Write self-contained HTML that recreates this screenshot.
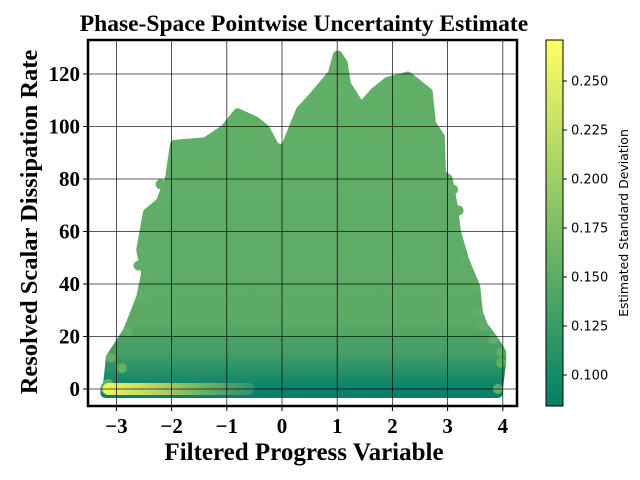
<!DOCTYPE html>
<html><head><meta charset="utf-8"><style>
html,body{margin:0;padding:0;background:#fff;width:640px;height:480px;overflow:hidden}
svg text{font-family:"Liberation Serif",serif}
</style></head><body>
<svg id="chart" width="640" height="480" viewBox="0 0 640 480">
<defs>
<linearGradient id="vfill" x1="0" y1="40" x2="0" y2="392" gradientUnits="userSpaceOnUse">
<stop offset="0" stop-color="#63b068"/>
<stop offset="0.8" stop-color="#5caa65"/>
<stop offset="0.9" stop-color="#3f9b66"/>
<stop offset="0.96" stop-color="#1a8a6b"/>
<stop offset="1" stop-color="#0a7f6b"/>
</linearGradient>
<linearGradient id="yel" x1="100" y1="0" x2="290" y2="0" gradientUnits="userSpaceOnUse">
<stop offset="0" stop-color="#f8f85e"/>
<stop offset="0.3" stop-color="#d8e060" stop-opacity="0.85"/>
<stop offset="1" stop-color="#8cc466" stop-opacity="0"/>
</linearGradient>
<linearGradient id="cbar" x1="0" y1="406" x2="0" y2="40" gradientUnits="userSpaceOnUse">
<stop offset="0" stop-color="#008066"/>
<stop offset="1" stop-color="#ffff66"/>
</linearGradient>
<clipPath id="plotclip"><rect x="88" y="40" width="429" height="366"/></clipPath>
</defs>
</svg>
<script>
// Upper envelope of the point cloud (x: progress variable, y: dissipation rate)
const envX = [-3.2,-3.15,-3.1,-2.79,-2.55,-2.46,-2.55,-2.43,-2.2,-2.03,-1.94,-1.38,-1.03,-0.8,-0.49,-0.31,-0.13,0.05,0.34,0.6,0.92,1.01,1.1,1.16,1.43,1.68,1.92,2.28,2.46,2.64,2.7,2.86,2.88,3.0,3.1,3.15,3.3,3.5,3.55,3.64,3.82,3.97,3.97,3.91];
const envY = [0,2,12,22,35,44,53,67,71,80,93,94,99,105,102,99,92,91,106,112,120,127,124,116,107,113,117,119,116,113,101,96,82,80,69,60,49,39,29,24,19,14,10,0];
// Isolated outlier points
const outX = [-2.9,-2.6,-1.3,-0.9,-0.3,0.65,0.95,1.3,1.55,2.05,2.15,2.5,2.6,3.1,3.2,-2.2,1.8];
const outY = [8,47,86,102,88,110,103,104,85,110,98,100,108,76,68,78,96];
const xTicks = [-3,-2,-1,0,1,2,3,4];
const yTicks = [0,20,40,60,80,100,120];
const cbTicks = [0.100,0.125,0.150,0.175,0.200,0.225,0.250];

const NS="http://www.w3.org/2000/svg";
const svg=document.getElementById('chart');
const X=v=>282+55.2*v;
const Y=v=>389-2.625*v;
const CB=v=>375-(v-0.1)*1960;
function mk(t,a,p){const e=document.createElementNS(NS,t);for(const k in a)e.setAttribute(k,a[k]);(p||svg).appendChild(e);return e;}

const g=mk('g',{'clip-path':'url(#plotclip)'});


let d='M'+X(envX[0])+','+(Y(0)+4);
for(let i=0;i<envX.length;i++) d+=' L'+X(envX[i])+','+Y(envY[i]);
d+=' L'+X(envX[envX.length-1])+','+(Y(0)+4)+' Z';
const cloud=mk('path',{d:d,fill:'url(#vfill)',stroke:'url(#vfill)','stroke-width':10,'stroke-linejoin':'round'},g);


for(let i=0;i<envX.length;i++){
  const c=mk('circle',{cx:X(envX[i]),cy:Y(envY[i]),r:5,fill:'#62ae66'},g);
  
  
}
for(let i=0;i<outX.length;i++){
  const c=mk('circle',{cx:X(outX[i]),cy:Y(outY[i]),r:5,fill:'#62ae66'},g);
  
  
}
const ys=mk('rect',{x:X(-3.25),y:Y(0)-6,width:X(-0.5)-X(-3.25),height:12,rx:6,fill:'url(#yel)'},g);



// grid
for(const t of xTicks){const l=mk('line',{x1:X(t),x2:X(t),y1:40,y2:406,stroke:'#000','stroke-width':0.8,opacity:0.85});

const tk=mk('line',{x1:X(t),x2:X(t),y1:406,y2:411,stroke:'#000','stroke-width':1});

const tx=mk('text',{x:X(t),y:433,'font-size':21,'font-weight':'bold','text-anchor':'middle'});tx.textContent=(t<0?'\u2212'+(-t):t);
}
for(const t of yTicks){const l=mk('line',{x1:88,x2:517,y1:Y(t),y2:Y(t),stroke:'#000','stroke-width':0.8,opacity:0.85});

const tk=mk('line',{x1:83,x2:88,y1:Y(t),y2:Y(t),stroke:'#000','stroke-width':1});

const tx=mk('text',{x:80,y:Y(t)+7,'font-size':21,'font-weight':'bold','text-anchor':'end'});tx.textContent=t;
}

const fr=mk('rect',{x:88,y:40,width:429,height:366,fill:'none',stroke:'#000','stroke-width':2.5});


const ti=mk('text',{x:304,y:31,'font-size':23.5,'font-weight':'bold','text-anchor':'middle'});ti.textContent='Phase-Space Pointwise Uncertainty Estimate';

const xl=mk('text',{x:304,y:460,'font-size':25,'font-weight':'bold','text-anchor':'middle'});xl.textContent='Filtered Progress Variable';

const yl=mk('text',{x:0,y:0,'font-size':24.5,'font-weight':'bold','text-anchor':'middle',transform:'translate(37,222) rotate(-90)'});yl.textContent='Resolved Scalar Dissipation Rate';


// colorbar
const cb=mk('rect',{x:546,y:40,width:17,height:366,fill:'url(#cbar)',stroke:'#000','stroke-width':1});

for(const t of cbTicks){const tk=mk('line',{x1:563,x2:567,y1:CB(t),y2:CB(t),stroke:'#000','stroke-width':1});

const tx=mk('text',{x:571,y:CB(t)+4.5,'font-size':13,style:'font-family:"DejaVu Sans",sans-serif'});tx.textContent=t.toFixed(3);
}
const cl=mk('text',{x:0,y:0,'font-size':12.5,'text-anchor':'middle',style:'font-family:"DejaVu Sans",sans-serif',transform:'translate(628,223) rotate(-90)'});cl.textContent='Estimated Standard Deviation';

</script>
</body></html>
